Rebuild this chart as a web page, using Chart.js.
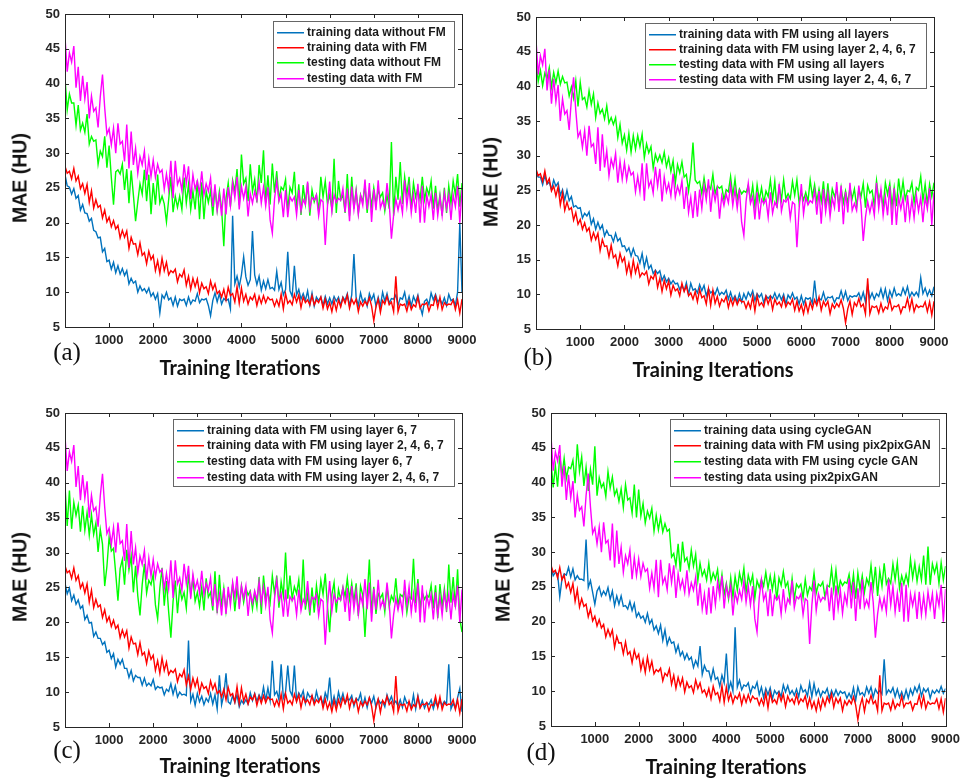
<!DOCTYPE html>
<html>
<head>
<meta charset="utf-8">
<script src="https://cdn.jsdelivr.net/npm/chart.js@4.4.1/dist/chart.umd.min.js"></script>
<style>
  body { margin: 0; background: #fff; width: 966px; height: 779px; position: relative; overflow: hidden; }
  .panel { position: absolute; }
  .ytitle, .xtitle, .tag { position: absolute; white-space: nowrap; color: #111; }
  .ytitle { font: bold 19.5px "Liberation Sans", Arial, sans-serif; transform: translate(-50%, -50%) rotate(-90deg); }
  .xtitle { font: bold 20px Lato, sans-serif; transform: translate(-50%, -50%); }
  .tag { font: 25px "Liberation Serif", serif; transform: translate(-50%, -50%); }
</style>
</head>
<body>
<script>
    const iterations = [0,50,100,150,200,250,300,350,400,450,
        500,550,600,650,700,750,800,850,900,950,
        1000,1050,1100,1150,1200,1250,1300,1350,1400,1450,
        1500,1550,1600,1650,1700,1750,1800,1850,1900,1950,
        2000,2050,2100,2150,2200,2250,2300,2350,2400,2450,
        2500,2550,2600,2650,2700,2750,2800,2850,2900,2950,
        3000,3050,3100,3150,3200,3250,3300,3350,3400,3450,
        3500,3550,3600,3650,3700,3750,3800,3850,3900,3950,
        4000,4050,4100,4150,4200,4250,4300,4350,4400,4450,
        4500,4550,4600,4650,4700,4750,4800,4850,4900,4950,
        5000,5050,5100,5150,5200,5250,5300,5350,5400,5450,
        5500,5550,5600,5650,5700,5750,5800,5850,5900,5950,
        6000,6050,6100,6150,6200,6250,6300,6350,6400,6450,
        6500,6550,6600,6650,6700,6750,6800,6850,6900,6950,
        7000,7050,7100,7150,7200,7250,7300,7350,7400,7450,
        7500,7550,7600,7650,7700,7750,7800,7850,7900,7950,
        8000,8050,8100,8150,8200,8250,8300,8350,8400,8450,
        8500,8550,8600,8650,8700,8750,8800,8850,8900,8950,9000];
    const yTicks = [5, 10, 15, 20, 25, 30, 35, 40, 45, 50];
    const xTicks = [1000, 2000, 3000, 4000, 5000, 6000, 7000, 8000, 9000];

    // red curve, the same run is shown in all four panels
    const trainFM = [28.1,27.1,27.4,26.3,27.8,26.0,26.7,24.9,25.6,24.2,
        25.5,22.9,24.6,22.1,23.3,22.2,22.5,20.7,21.8,20.1,
        20.8,19.4,20.3,19.1,19.6,17.8,18.9,17.9,18.8,16.3,
        17.9,16.9,17.0,15.4,17.1,15.3,15.7,14.1,15.9,14.7,
        15.3,13.1,14.5,12.7,14.9,13.1,14.3,12.5,13.1,12.8,
        13.3,11.5,12.6,12.2,13.2,11.0,12.3,10.4,12.0,10.8,
        11.9,9.9,11.3,10.5,10.8,9.8,11.6,10.4,11.2,9.8,
        10.2,9.3,10.4,8.9,10.7,9.5,9.8,8.6,10.8,8.4,
        10.6,8.7,9.7,8.3,9.3,8.9,9.7,8.1,9.4,8.4,
        9.5,8.5,9.3,8.9,9.0,8.0,8.9,8.0,9.7,7.6,
        9.8,8.4,8.8,8.2,9.7,8.6,9.6,7.8,9.3,8.5,
        8.9,8.2,9.5,8.2,8.9,8.5,9.3,7.7,9.0,7.6,
        8.5,7.2,8.8,7.4,8.9,7.9,9.2,8.4,9.6,7.7,
        9.0,8.3,9.0,7.2,8.6,8.0,8.7,8.2,9.2,8.0,
        5.9,7.9,9.0,7.1,8.8,8.3,9.4,8.2,8.6,7.2,
        12.3,7.2,8.3,8.1,8.3,7.3,8.7,7.5,8.2,7.9,
        9.3,7.7,8.3,8.2,8.5,7.3,8.2,8.1,9.4,7.8,
        9.3,7.5,8.5,8.1,8.3,8.2,8.9,7.5,8.9,7.0,9.0];
    // magenta curve, the same run is shown in all four panels
    const testFM = [46.7,41.7,44.4,43.1,45.4,39.4,42.4,37.5,41.1,37.8,
        40.2,35.0,38.2,36.0,36.5,33.7,38.1,41.3,36.5,32.7,
        33.5,31.2,33.6,30.0,34.3,31.3,31.7,28.8,34.1,27.8,
        33.1,28.3,30.7,27.1,29.5,28.3,30.3,26.1,29.2,26.6,
        29.0,26.5,28.4,27.2,27.6,24.8,27.0,24.8,28.9,23.5,
        28.9,25.5,26.4,24.6,28.4,25.6,28.1,23.4,26.9,24.8,
        26.0,24.2,27.4,24.0,25.6,24.5,26.4,22.3,25.5,21.8,
        24.0,21.0,24.9,21.2,25.1,22.4,25.7,23.6,26.6,21.9,
        25.2,23.5,25.2,20.9,24.2,22.8,24.5,23.2,25.8,22.8,
        25.1,22.4,25.1,20.4,18.5,23.4,26.0,23.1,24.1,20.8,
        24.7,20.8,23.7,23.1,23.7,21.1,24.7,21.7,23.3,22.6,
        25.9,22.0,23.6,23.3,24.0,21.0,23.3,23.0,16.8,22.3,
        25.9,21.6,24.0,22.9,23.5,23.2,24.9,21.5,24.9,20.2,
        25.2,21.9,24.5,21.2,23.9,22.5,26.2,21.9,25.7,20.1,
        24.8,21.8,26.1,22.1,23.1,22.1,25.7,22.8,17.7,21.1,
        23.4,21.8,23.4,21.4,26.1,22.4,25.1,21.4,24.1,21.4,
        25.6,20.0,25.3,20.0,24.0,22.3,24.0,20.4,24.3,21.0,
        23.7,21.0,24.3,22.0,24.0,20.4,24.0,22.3,25.3,20.0,24.7];

    const trainA = [26.9,25.3,25.1,24.1,24.9,23.5,23.9,21.8,22.6,21.4,
        21.3,20.2,20.6,18.9,18.7,17.8,17.9,15.8,16.3,14.4,
        14.6,13.3,14.3,12.8,13.8,12.6,13.4,12.4,13.1,11.2,
        12.0,11.3,11.6,10.0,10.9,10.2,10.5,9.9,10.6,9.4,
        9.9,9.0,9.8,7.0,9.6,9.1,10.0,8.9,9.2,8.1,
        9.3,8.0,9.0,8.8,9.0,8.1,9.3,8.3,8.9,8.7,
        9.8,8.5,9.0,8.9,9.1,8.1,6.6,8.8,9.9,8.6,
        9.8,8.3,9.1,8.8,9.0,7.6,21.0,11.2,12.3,10.8,
        12.5,15.1,12.2,11.0,11.8,18.8,12.5,11.1,12.3,10.3,
        11.6,10.5,11.8,10.5,10.7,10.3,13.0,10.4,11.4,9.6,
        10.4,15.8,10.2,9.4,13.8,9.6,10.4,9.0,9.8,8.8,
        10.2,8.2,9.9,8.0,9.3,8.8,9.3,8.1,9.4,8.3,
        9.2,8.3,9.4,8.7,9.3,8.1,9.3,8.8,9.8,8.0,
        9.6,15.5,9.2,8.1,9.9,8.6,9.1,8.0,9.8,8.9,
        9.7,8.0,9.3,8.0,10.0,8.7,9.8,8.4,9.1,9.0,
        9.6,8.1,9.2,9.0,10.0,8.2,9.4,8.0,9.4,8.6,
        9.6,8.0,6.8,8.7,9.0,8.2,9.9,8.9,9.7,8.6,
        9.0,8.3,9.2,8.1,9.7,8.8,9.0,8.1,10.0,20.0,9.9];
    const testA = [40.8,36.2,38.5,37.2,37.2,34.0,36.9,33.3,34.3,33.0,
        35.6,31.3,32.4,31.7,31.9,28.4,30.3,29.5,32.4,27.9,
        31.1,26.5,22.6,27.3,27.6,27.0,28.4,24.7,27.7,22.8,
        27.5,24.0,20.2,23.0,25.6,24.1,27.6,23.1,26.9,21.2,
        25.7,22.6,26.9,22.8,23.8,22.7,20.1,23.3,26.6,21.5,
        23.8,22.2,23.8,21.9,26.5,22.8,25.5,21.9,24.5,21.9,
        26.1,20.5,25.8,20.5,24.5,22.9,24.6,21.0,25.0,21.8,
        24.5,22.0,16.6,23.5,25.7,22.3,26.1,24.5,27.7,22.5,
        29.8,25.6,26.4,23.1,28.4,24.5,26.2,22.9,28.3,25.7,
        30.4,22.9,26.8,22.6,28.5,24.3,27.4,23.3,25.1,24.7,
        26.2,21.8,25.1,24.3,27.3,21.9,25.5,21.1,25.4,22.7,
        25.7,21.0,24.7,23.0,24.0,21.7,26.6,23.7,26.0,22.7,
        24.0,22.0,29.2,21.4,26.0,23.3,24.0,21.4,27.0,21.0,
        26.6,22.0,24.7,21.4,24.0,23.0,25.3,21.4,24.7,22.4,
        25.0,22.7,24.7,23.7,24.3,21.7,24.0,22.0,31.6,21.0,
        26.6,23.3,28.7,22.7,26.6,24.0,26.6,22.0,25.7,23.7,
        25.0,23.3,26.6,23.3,25.0,24.0,26.0,22.0,25.3,21.7,
        24.0,21.0,25.0,21.4,25.3,22.7,26.0,24.0,27.0,22.3,25.7];

    const trainB = [27.5,26.9,26.9,25.8,27.2,25.9,26.2,25.1,26.5,25.6,
        26.1,24.3,25.1,23.6,25.0,23.5,24.1,22.6,22.8,22.4,
        22.5,21.0,21.7,21.3,21.9,20.1,20.9,19.4,20.4,19.4,
        20.0,18.4,19.2,18.5,18.5,17.6,18.8,17.7,18.1,16.9,
        17.0,16.2,16.7,15.5,16.6,15.6,15.5,14.5,15.9,13.9,
        15.3,13.7,14.2,13.0,13.5,13.0,13.4,12.0,12.7,11.8,
        12.3,11.5,12.0,11.5,11.6,10.7,11.3,10.5,11.7,10.0,
        11.6,10.6,10.8,10.2,11.4,10.5,11.3,9.8,10.8,10.2,
        10.5,10.0,10.9,9.9,10.3,10.0,10.6,9.3,10.3,9.2,
        9.8,8.9,10.1,8.9,10.1,9.3,10.3,9.7,10.5,9.1,
        10.1,9.6,10.1,8.8,9.8,9.4,9.8,9.4,10.2,9.3,
        10.0,9.2,10.0,8.6,9.9,9.4,10.2,9.3,9.6,8.6,
        9.8,8.6,9.5,9.3,9.5,8.7,12.0,8.9,9.4,9.2,
        10.3,9.1,9.6,9.5,9.7,8.8,9.5,9.4,10.5,9.3,
        10.4,9.1,9.8,9.6,9.8,9.7,10.2,9.2,10.3,8.9,
        11.3,9.4,10.2,9.3,10.1,9.7,10.8,9.5,10.8,9.1,
        10.5,9.6,10.9,9.8,10.1,9.8,10.9,10.0,11.1,9.6,
        10.3,9.8,10.3,9.7,12.4,10.1,10.9,9.8,10.6,9.8,11.1];
    const testB = [43.8,40.7,42.3,40.1,41.9,41.1,42.7,39.9,42.0,40.5,
        42.2,40.3,41.4,40.5,40.6,38.6,39.9,38.3,40.8,37.1,
        40.6,38.1,38.4,37.0,39.4,37.4,38.9,35.5,37.6,36.1,
        36.7,35.3,37.2,34.7,35.5,34.5,35.5,32.6,34.5,31.8,
        33.0,30.8,33.2,30.5,32.9,30.9,32.9,31.3,33.1,29.7,
        31.7,30.4,31.3,28.2,30.2,29.2,30.1,29.0,30.5,28.4,
        29.7,27.7,29.3,26.0,28.7,27.5,29.1,26.9,27.3,24.9,
        27.4,31.9,26.5,26.0,26.3,24.5,26.8,24.7,25.7,25.2,
        27.3,24.5,25.6,25.3,25.6,23.6,25.1,24.8,27.0,24.2,
        26.6,23.7,25.2,24.5,24.9,24.7,25.7,23.5,25.7,22.6,
        25.8,23.6,25.4,23.2,24.9,24.1,26.5,23.6,26.3,22.5,
        25.6,23.6,26.5,23.8,24.5,23.8,26.3,24.3,26.5,23.2,
        24.7,23.6,24.7,23.4,26.5,24.1,25.8,23.4,25.2,23.4,
        26.3,22.5,26.0,22.5,25.2,24.1,25.2,22.7,25.4,23.2,
        24.9,23.2,25.4,23.8,25.2,22.7,25.2,24.1,26.0,22.5,
        25.7,24.6,25.0,22.8,26.4,23.7,24.8,22.6,26.1,24.4,
        26.0,22.7,25.4,22.7,26.7,24.0,26.3,23.7,25.0,24.8,
        26.1,23.2,25.4,25.0,27.0,23.5,25.9,23.0,25.9,24.1,26.1];

    const trainC = [25.6,24.1,24.9,23.1,23.9,22.6,23.2,22.0,22.4,20.4,
        21.0,19.9,20.0,18.0,18.6,17.7,17.7,16.8,17.2,15.7,
        16.0,14.8,15.5,13.6,14.7,14.0,14.7,13.4,13.4,12.1,
        13.1,11.6,12.4,12.1,12.1,11.0,12.0,10.9,11.3,10.9,
        11.8,10.4,10.8,10.6,10.7,9.6,10.4,10.1,11.2,9.7,
        10.9,9.3,10.0,9.6,9.7,9.5,17.4,8.7,9.7,8.1,
        9.8,8.6,9.4,8.2,9.1,8.6,9.8,8.3,9.6,7.6,
        12.4,8.2,9.6,12.7,8.6,8.3,9.5,8.5,9.6,7.9,
        8.8,8.3,8.9,8.3,9.9,8.8,9.8,8.7,9.6,8.9,
        10.7,8.8,10.6,8.8,14.5,9.6,10.1,8.9,14.0,9.1,
        10.0,13.8,10.2,9.5,13.8,8.8,9.9,9.3,10.2,8.4,
        9.9,9.3,9.5,8.4,10.1,8.8,9.3,8.2,9.9,9.0,
        12.1,8.1,9.4,8.1,10.0,8.7,9.8,8.4,9.0,8.9,
        9.5,8.0,9.1,8.8,9.8,8.0,9.2,7.8,9.2,8.4,
        9.4,7.8,9.0,8.4,8.7,7.9,9.6,8.6,9.4,8.3,
        8.7,8.0,8.9,7.8,9.3,8.4,8.6,7.7,9.6,7.6,
        9.5,7.9,8.8,7.7,8.5,8.2,8.9,7.6,8.7,7.9,
        8.8,8.1,8.7,8.3,14.0,7.6,8.4,7.7,9.2,10.5,7.2];
    const testC = [39.6,33.8,38.9,33.4,37.2,35.3,36.8,33.0,36.7,33.2,
        35.7,32.5,35.4,32.6,34.2,30.1,33.3,31.2,25.2,28.0,
        32.2,30.2,30.6,27.0,23.1,27.7,29.0,25.4,30.4,27.5,
        29.5,24.3,28.1,23.8,21.0,25.4,28.4,24.2,26.0,25.4,
        26.9,22.5,20.5,24.9,27.8,22.4,25.9,21.5,17.8,23.0,
        26.0,21.3,25.0,23.3,24.3,22.0,26.9,24.0,26.3,23.0,
        24.3,22.3,25.0,21.7,26.3,23.6,24.3,21.7,27.3,21.3,
        26.8,22.2,24.9,21.6,24.2,23.2,25.5,21.6,24.9,22.6,
        25.2,22.9,24.9,23.9,24.5,21.9,24.2,22.2,26.5,21.2,
        26.7,23.4,24.4,22.8,26.7,24.1,26.7,22.1,25.8,23.8,
        30.0,23.4,26.7,23.4,25.1,24.1,26.1,22.1,29.0,21.8,
        24.0,21.0,25.0,21.4,25.3,22.7,26.0,24.0,27.0,22.3,
        18.6,24.0,25.7,21.4,24.7,23.3,25.0,23.7,26.3,23.3,
        25.6,22.9,25.6,20.9,25.2,23.9,17.9,23.6,29.0,21.3,
        25.1,21.2,24.1,23.5,24.1,21.5,25.1,22.2,23.8,23.1,
        26.3,22.4,24.0,23.7,24.4,21.4,23.7,23.4,29.1,22.7,
        26.2,22.0,24.3,23.3,23.9,23.6,25.3,22.0,25.3,20.6,
        25.5,22.2,24.8,21.5,28.3,22.8,26.5,22.2,27.6,20.5,18.6];

    const trainD = [27.9,26.6,27.1,26.9,23.6,26.1,26.9,26.7,27.8,26.4,
        27.6,26.0,26.6,26.1,26.1,25.9,31.8,24.9,25.9,24.2,
        22.5,24.4,25.0,23.7,24.4,23.8,24.9,23.2,24.4,22.3,
        23.7,22.5,23.7,22.2,22.3,21.8,22.9,21.6,22.6,20.7,
        21.3,20.5,20.8,19.9,21.2,19.7,20.3,18.8,19.4,18.3,
        19.5,17.3,18.8,16.7,17.7,16.9,17.1,15.6,16.6,15.1,
        15.7,14.6,15.4,14.5,14.9,13.4,14.4,13.6,16.5,12.4,
        13.7,12.9,12.9,11.6,13.2,11.7,12.0,10.7,12.3,11.2,
        15.4,10.1,11.3,10.0,19.2,10.6,11.6,10.2,10.9,10.7,
        11.2,9.7,10.7,10.4,11.3,9.5,10.6,9.1,10.4,9.5,
        10.5,8.9,10.1,9.6,10.0,9.2,10.9,9.9,10.8,9.6,
        10.1,9.4,10.3,9.2,10.8,9.9,10.2,9.3,11.2,9.2,
        11.1,9.5,10.3,9.2,10.0,9.7,10.4,9.0,10.1,9.3,
        10.2,9.4,10.0,9.7,9.9,9.0,9.7,9.0,10.5,8.7,
        10.6,9.5,9.8,9.3,10.6,9.7,10.6,9.1,10.3,9.7,
        10.1,9.6,14.6,9.6,10.2,9.8,10.5,9.2,10.3,9.1,
        9.9,8.9,10.2,9.0,10.3,9.5,10.6,9.9,10.9,9.3,
        10.4,9.9,10.4,9.0,10.1,9.7,10.2,9.8,10.7,9.7,10.4];
    const testD = [43.0,39.3,42.4,39.4,43.9,41.0,43.5,40.6,42.2,42.0,
        43.2,39.9,45.5,41.6,43.7,39.5,42.2,38.8,41.9,39.7,
        45.2,38.1,40.7,39.3,39.9,38.0,41.6,39.2,40.8,38.2,
        39.0,37.3,39.1,36.4,39.7,37.5,37.8,35.6,39.7,35.0,
        39.0,35.2,37.0,34.2,35.9,34.9,36.3,33.0,35.3,33.2,
        35.0,32.9,34.1,33.0,33.3,29.3,29.8,28.1,31.2,27.2,
        31.5,28.7,29.2,27.6,30.3,28.0,29.7,25.9,28.4,26.6,
        27.4,26.0,28.4,25.8,27.0,26.1,27.5,24.4,26.8,23.9,
        25.5,23.3,26.3,23.5,26.5,24.5,27.0,25.5,27.7,24.2,
        26.7,25.4,26.7,23.4,25.9,24.9,26.1,25.1,27.1,24.8,
        26.6,24.6,26.6,23.1,26.3,25.2,27.2,25.0,25.7,23.2,
        26.2,23.2,25.4,24.9,25.4,23.4,26.1,23.8,25.0,24.5,
        27.0,24.1,25.4,25.1,25.7,23.5,25.2,25.0,27.6,24.6,
        27.4,24.2,25.9,25.2,25.7,25.5,26.8,24.3,26.8,23.3,
        27.0,24.6,26.6,24.2,26.2,25.3,28.1,24.9,27.9,23.7,
        27.3,25.1,28.4,25.4,26.2,25.5,28.3,26.0,28.5,24.8,
        26.6,25.4,26.8,25.4,29.0,26.3,28.4,25.8,27.9,26.0,
        29.5,25.3,30.8,25.3,28.3,27.0,28.3,25.5,28.5,26.0,28.0];

    const lineColors = ['#0072BD', '#FF0000', '#00FF00', '#FF00FF'];
    const axisColor = '#262626';

    const panels = [
        { tag: '(a)', box: { x: 0, y: 0, w: 483, h: 390 }, plot: { l: 65, t: 14, r: 462, b: 327 },
          legend: { x: 273, y: 21, w: 181, h: 66 }, xTitle: [240, 367], yTitle: [20, 178], tagPos: [67, 352],
          blue: trainA, green: testA,
          labels: ['training data without FM', 'training data with FM', 'testing data without FM', 'testing data with FM'] },
        { tag: '(b)', box: { x: 478, y: 0, w: 488, h: 390 }, plot: { l: 536, t: 17, r: 934, b: 329 },
          legend: { x: 645, y: 23, w: 281, h: 65 }, xTitle: [713, 369], yTitle: [491, 182], tagPos: [538, 357],
          blue: trainB, green: testB,
          labels: ['training data with FM using all layers', 'training data with FM using layer 2, 4, 6, 7',
                   'testing data with FM using all layers', 'testing data with FM using layer 2, 4, 6, 7'] },
        { tag: '(c)', box: { x: 0, y: 390, w: 483, h: 389 }, plot: { l: 65, t: 413, r: 462, b: 727 },
          legend: { x: 173, y: 419, w: 281, h: 67 }, xTitle: [240, 765], yTitle: [20, 577], tagPos: [67, 750],
          blue: trainC, green: testC,
          labels: ['training data with FM using layer 6, 7', 'training data with FM using layer 2, 4, 6, 7',
                   'testing data with FM using layer 6, 7', 'testing data with FM using layer 2, 4, 6, 7'] },
        { tag: '(d)', box: { x: 478, y: 390, w: 488, h: 389 }, plot: { l: 551, t: 413, r: 947, b: 726 },
          legend: { x: 670, y: 419, w: 269, h: 67 }, xTitle: [726, 766], yTitle: [503, 577], tagPos: [541, 752],
          blue: trainD, green: testD,
          labels: ['training data using cycleGAN', 'training data with FM using pix2pixGAN',
                   'testing data with FM using cycle GAN', 'testing data using pix2pixGAN'] }
    ];

    // box + inward MATLAB-style tick marks on all four sides
    const framePlugin = {
        id: 'frame',
        afterDatasetsDraw(chart) {
            const { ctx, chartArea: a, scales } = chart;
            ctx.save();
            ctx.strokeStyle = axisColor;
            ctx.lineWidth = 1;
            ctx.beginPath();
            xTicks.forEach(v => {
                const px = Math.round(scales.x.getPixelForValue(v)) + 0.5;
                ctx.moveTo(px, a.bottom); ctx.lineTo(px, a.bottom - 4);
                ctx.moveTo(px, a.top); ctx.lineTo(px, a.top + 4);
            });
            yTicks.forEach(v => {
                const py = Math.round(scales.y.getPixelForValue(v)) + 0.5;
                ctx.moveTo(a.left, py); ctx.lineTo(a.left + 4, py);
                ctx.moveTo(a.right, py); ctx.lineTo(a.right - 4, py);
            });
            ctx.stroke();
            ctx.strokeRect(Math.round(a.left) + 0.5, Math.round(a.top) + 0.5,
                Math.round(a.right - a.left), Math.round(a.bottom - a.top));
            ctx.restore();
        }
    };

    const boxLegendPlugin = {
        id: 'boxLegend',
        afterDraw(chart, args, opts) {
            const { ctx } = chart;
            const lg = opts.rect;
            const x = lg.x - opts.ox, y = lg.y - opts.oy;
            ctx.save();
            ctx.fillStyle = '#fff';
            ctx.fillRect(x, y, lg.w, lg.h);
            ctx.strokeStyle = '#666';
            ctx.lineWidth = 1;
            ctx.strokeRect(x + 0.5, y + 0.5, lg.w, lg.h);
            ctx.font = 'bold 12px "Liberation Sans", Arial, sans-serif';
            ctx.textBaseline = 'middle';
            const step = (lg.h - 20) / 3;
            opts.names.forEach((name, i) => {
                const ry = Math.round(y + 10.5 + i * step);
                ctx.fillStyle = opts.colors[i];
                ctx.fillRect(x + 4, ry, 27, 1.5);
                ctx.fillStyle = '#1a1a1a';
                ctx.fillText(name, x + 34, ry + 1);
            });
            ctx.restore();
        }
    };

    function addText(cls, text, pos) {
        const el = document.createElement('div');
        el.className = cls;
        el.textContent = text;
        el.style.left = pos[0] + 'px';
        el.style.top = pos[1] + 'px';
        document.body.appendChild(el);
    }

    const tickFont = { family: '"Liberation Sans", Arial, sans-serif', weight: 'bold', size: 13 };

    panels.forEach(p => {
        const div = document.createElement('div');
        div.className = 'panel';
        div.style.left = p.box.x + 'px';
        div.style.top = p.box.y + 'px';
        const canvas = document.createElement('canvas');
        canvas.width = p.box.w;
        canvas.height = p.box.h;
        div.appendChild(canvas);
        document.body.appendChild(div);

        const series = [p.blue, trainFM, p.green, testFM];
        const drawOrder = [3, 2, 1, 0];   // magenta on top, blue at the bottom

        new Chart(canvas.getContext('2d'), {
            type: 'line',
            data: {
                datasets: series.map((vals, i) => ({
                    label: p.labels[i],
                    data: iterations.map((it, k) => ({ x: it, y: vals[k] })),
                    borderColor: lineColors[i],
                    borderWidth: 1.4,
                    pointRadius: 0,
                    tension: 0,
                    order: drawOrder[i]
                }))
            },
            options: {
                responsive: false,
                animation: false,
                devicePixelRatio: 1,
                layout: {
                    padding: {
                        left: 0, bottom: 0,
                        top: p.plot.t - p.box.y,
                        right: p.box.x + p.box.w - p.plot.r
                    }
                },
                plugins: {
                    legend: { display: false },
                    tooltip: { enabled: false },
                    boxLegend: { rect: p.legend, ox: p.box.x, oy: p.box.y, names: p.labels, colors: lineColors }
                },
                scales: {
                    x: {
                        type: 'linear', min: 0, max: 9000,
                        afterBuildTicks: s => { s.ticks = xTicks.map(v => ({ value: v })); },
                        afterFit: s => { s.height = p.box.y + p.box.h - p.plot.b; },
                        grid: { display: false, drawTicks: false },
                        border: { display: false },
                        ticks: { color: axisColor, font: tickFont, padding: 6, autoSkip: false, maxRotation: 0,
                                 callback: v => String(v) }
                    },
                    y: {
                        min: 5, max: 50,
                        afterBuildTicks: s => { s.ticks = yTicks.map(v => ({ value: v })); },
                        afterFit: s => { s.width = p.plot.l - p.box.x; },
                        grid: { display: false, drawTicks: false },
                        border: { display: false },
                        ticks: { color: axisColor, font: tickFont, padding: 5, callback: v => String(v) }
                    }
                }
            },
            plugins: [framePlugin, boxLegendPlugin]
        });

        addText('ytitle', 'MAE (HU)', p.yTitle);
        addText('xtitle', 'Training Iterations', p.xTitle);
        addText('tag', p.tag, p.tagPos);
    });
</script>
</body>
</html>
